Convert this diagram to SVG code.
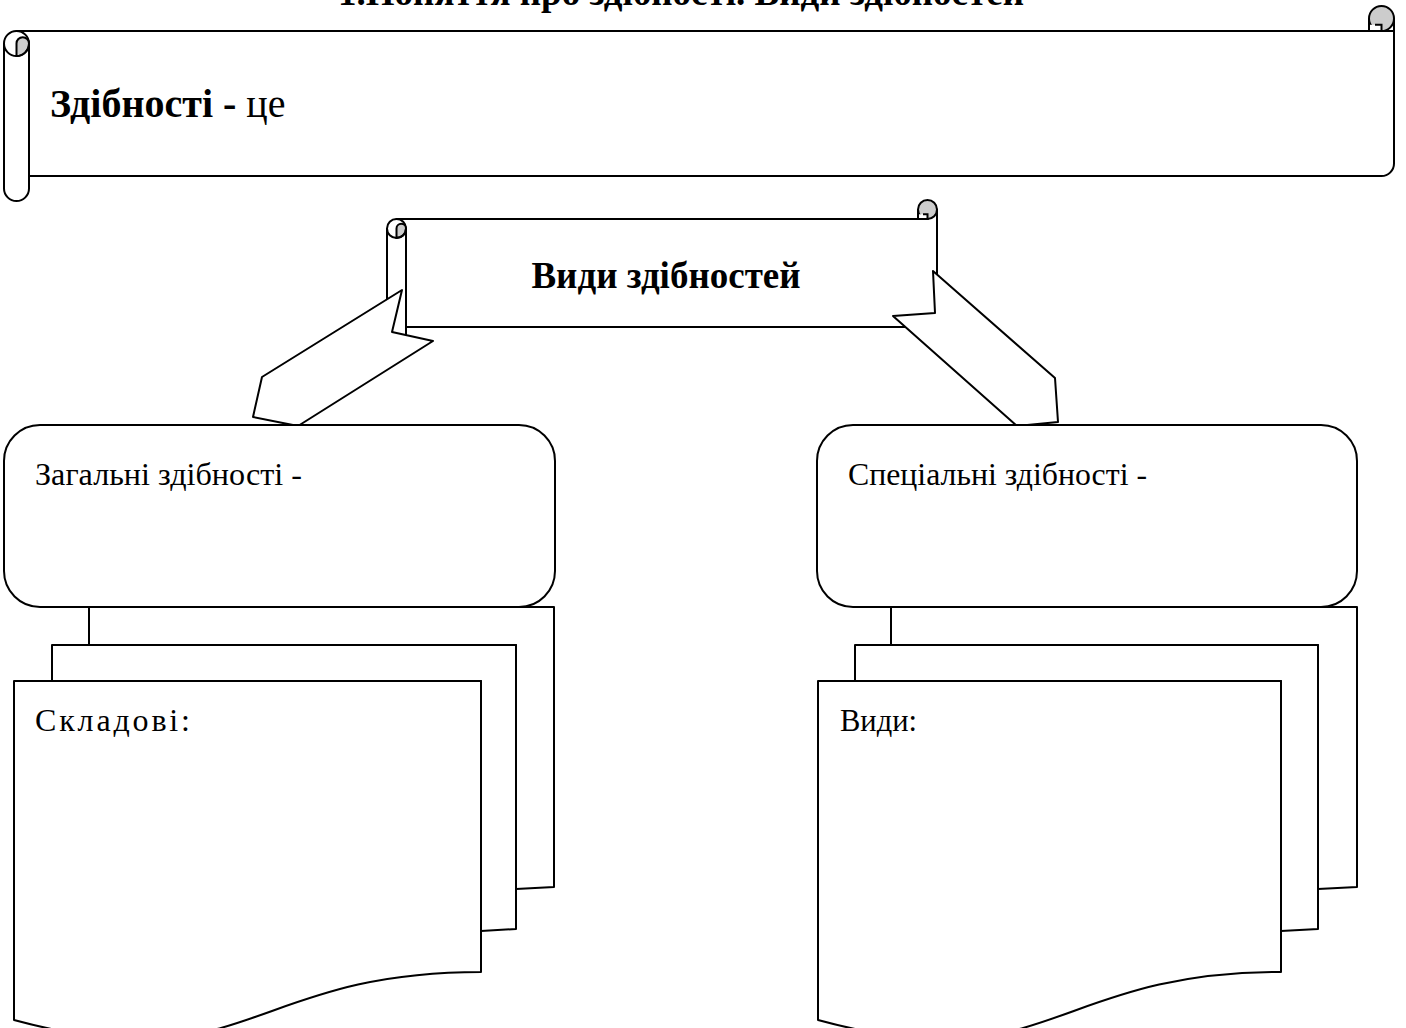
<svg xmlns="http://www.w3.org/2000/svg" width="1406" height="1028" viewBox="0 0 1406 1028">
<style>
.s{fill:#fff;stroke:#000;stroke-width:2;stroke-linejoin:round}
.g{fill:#cccccc;stroke:#000;stroke-width:2}
.l{fill:none;stroke:#000;stroke-width:2}
.b{font-family:"Liberation Serif","Times New Roman",serif;font-weight:bold;font-size:37px;fill:#000}
.r{font-family:"Liberation Serif","Times New Roman",serif;font-size:32px;fill:#000}
</style>
<rect width="1406" height="1028" fill="#fff"/>
<text class="b" x="338" y="5" textLength="686" lengthAdjust="spacingAndGlyphs">1.Поняття про здібності. Види здібностей</text>

<g id="scroll-definition">
  <path class="s" d="M16.5,31 H1381.5 L1394,18.5 V163.5 A12.5,12.5 0 0 1 1381.5,176 H29 Z"/>
  <circle class="g" cx="1381.5" cy="18.5" r="12.5"/>
  <path d="M1369,18.5 V31 H1381.5 V24.75 H1369 Z" fill="#fff"/>
  <path class="l" d="M1369,18.5 V31 M1369,31 H1381.5 V24.75 H1375"/>
  <path class="l" d="M1381.5,31 H1394"/>
  <path class="s" d="M4,43.5 A12.5,12.5 0 0 1 29,43.5 V188.5 A12.5,12.5 0 0 1 4,188.5 Z"/>
  <path class="g" d="M16.5,43.5 A6.25,6.25 0 0 1 29,43.5 A12.5,12.5 0 0 1 16.5,56 Z"/>
  <path class="l" d="M29,43.5 A12.5,12.5 0 0 1 4,43.5"/>
  <text class="b" x="50" y="117" style="font-size:40px">Здібності - <tspan style="font-weight:normal">це</tspan></text>
</g>

<g id="scroll-types">
  <path class="s" d="M396.5,219 H927.5 L937,209.5 V317.5 A9.5,9.5 0 0 1 927.5,327 H406 Z"/>
  <circle class="g" cx="927.5" cy="209.5" r="9.5"/>
  <path d="M918,209.5 V219 H927.5 V214.25 H918 Z" fill="#fff"/>
  <path class="l" d="M918,209.5 V219 H927.5 V214.25 H923"/>
  <path class="s" d="M387,228.5 A9.5,9.5 0 0 1 406,228.5 V336.5 A9.5,9.5 0 0 1 387,336.5 Z"/>
  <path class="g" d="M396.5,228.5 A4.75,4.75 0 0 1 406,228.5 A9.5,9.5 0 0 1 396.5,238 Z"/>
  <path class="l" d="M406,228.5 A9.5,9.5 0 0 1 387,228.5"/>
  <text class="b" x="666" y="288" text-anchor="middle">Види здібностей</text>
</g>

<g id="connectors">
  <polygon class="s" points="402,290 392,332 433,341 298,426 253,417 262,377"/>
  <polygon class="s" points="933,271 935,313 893,316 1017,426 1058,422 1055,378"/>
</g>

<g id="general">
  <rect class="s" x="4" y="425" width="551" height="182" rx="36" ry="36"/>
  <text class="r" x="35" y="485" textLength="267" lengthAdjust="spacingAndGlyphs">Загальні здібності -</text>
</g>
<g id="general-parts">
  <path class="s" d="M89,607 H554 V887 L516,889 V645 H89 Z"/>
  <path class="s" d="M52,645 H516 V929 L481,931 V681 H52 Z"/>
  <path class="s" d="M14,681 H481 V972 C247.5,972 247.5,1083 14,1020 Z"/>
  <text class="r" x="35" y="731" textLength="155" lengthAdjust="spacing">Складові:</text>
</g>

<g id="special">
  <rect class="s" x="817" y="425" width="540" height="182" rx="36" ry="36"/>
  <text class="r" x="848" y="485" textLength="299" lengthAdjust="spacingAndGlyphs">Спеціальні здібності -</text>
</g>
<g id="special-kinds">
  <path class="s" d="M891,607 H1357 V887 L1318,889 V645 H891 Z"/>
  <path class="s" d="M855,645 H1318 V929 L1281,931 V681 H855 Z"/>
  <path class="s" d="M818,681 H1281 V972 C1049.5,972 1049.5,1083 818,1020 Z"/>
  <text class="r" x="840" y="731" textLength="77" lengthAdjust="spacingAndGlyphs">Види:</text>
</g>
</svg>
